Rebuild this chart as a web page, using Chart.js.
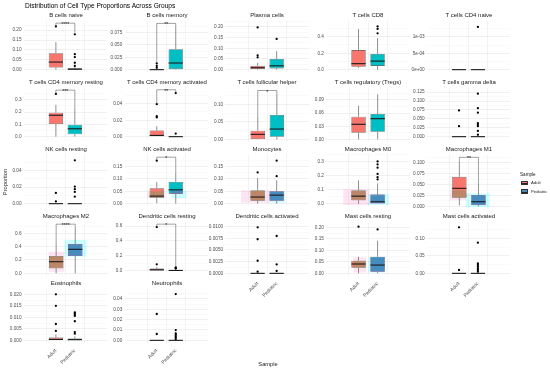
<!DOCTYPE html>
<html><head><meta charset="utf-8">
<script src="https://cdn.jsdelivr.net/npm/chart.js@4.4.1/dist/chart.umd.min.js"></script>
<style>
html,body{margin:0;padding:0;background:#fff}
body{width:550px;height:369px;overflow:hidden;position:relative;font-family:"Liberation Sans",Arial,sans-serif}
.t{position:absolute;white-space:nowrap;color:#1a1a1a;font-size:12px;line-height:12px}
canvas{position:absolute}
.key{position:absolute;width:7px;height:4.6px;box-sizing:border-box;border:0.6px solid #333}
.key i{position:absolute;left:0;right:0;top:1.6px;height:0.8px;background:#222}
</style></head><body>
<script>
// ---------------- data ----------------
const panelNames = ['B cells naive','B cells memory','Plasma cells','T cells CD8','T cells CD4 naive',
  'T cells CD4 memory resting','T cells CD4 memory activated','T cells follicular helper','T cells regulatory (Tregs)','T cells gamma delta',
  'NK cells resting','NK cells activated','Monocytes','Macrophages M0','Macrophages M1',
  'Macrophages M2','Dendritic cells resting','Dendritic cells activated','Mast cells resting','Mast cells activated',
  'Eosinophils','Neutrophils'];
const groups = ['Adult','Pediatric'];
// [lower whisker, Q1, median, Q3, upper whisker]
const adultBox = [
  [0,0.011,0.0386,0.083,0.1395],[0,0,0,0.001,0.002],[0,0.003,0.009,0.018,0.0326],[0.019,0.035,0.073,0.238,0.495],[0,0,0,0,0],
  [0,0.103,0.174,0.195,0.259],[0,0,0.0015,0.0076,0.0127],[0,0.001,0.0143,0.0246,0.0648],[0,0.0152,0.0344,0.0517,0.0769],[0,0,0,0,0],
  [0,0,0,0,0],[0.002,0.024,0.0307,0.0625,0.088],[0,0.0117,0.0268,0.0537,0.1035],[0,0.0245,0.054,0.095,0.167],[0.002,0.0198,0.0415,0.068,0.1028],
  [0,0.075,0.174,0.26,0.45],[0,0.002,0.012,0.028,0.05],[0,0,0,0,0],[0,0.0245,0.0406,0.055,0.072],[0,0,0,0,0],
  [0,0,0.0004,0.0012,0.0025],[0,0,0,0,0]];
const pedBox = [
  [0,0,0.002,0.007,0.015],[0,0.001,0.0135,0.0415,0.088],[0,0.006,0.018,0.05,0.087],[0,0.046,0.104,0.191,0.384],[0,0,0,0,0],
  [0,0.02,0.064,0.097,0.226],[0,0,0,0,0.0005],[0,0.0074,0.0295,0.0696,0.13],[0,0.0175,0.0472,0.0579,0.103],[0,0,0,0,0],
  [0,0,0,0,0],[0,0.0406,0.056,0.088,0.1265],[0,0.0117,0.0345,0.05,0.095],[0,0,0.0136,0.065,0.145],[0,0.003,0.0106,0.026,0.053],
  [0,0.26,0.36,0.44,0.7],[0,0,0.003,0.009,0.018],[0,0,0,0,0],[0,0.007,0.036,0.072,0.142],[0,0,0,0,0],
  [0,0,0.0003,0.0008,0.0017],[0,0,0,0,0]];
const adultOutliers = [
  [0.219],[0.0127,0.0077,0.0039],[0.198,0.067,0.058],[],[],
  [0.347],[0.0395,0.0249,0.0234],[],[],[0.0735,0.0294],
  [0.013,0.0027],[0.174],[0.1265],[],[],
  [],[0.588,0.085],[0.00986,0.0073,0.0027,0.00035],[0.203],[0.132,0.0096],
  [0.020,0.015,0.0071,0.0041],[0.0254,0.0061]];
const pedOutliers = [
  [0.179,0.0785,0.064,0.035,0.019],[],[0.144],[0.526,0.495,0.441],[0.0013],
  [],[0.053,0.0038],[],[],[0.1206,0.0799,0.0674,0.0381,0.0336,0.0294,0.016,0.0054],
  [0.0522,0.0206,0.0175,0.0141,0.0084],[],[0.174,0.111],[0.303,0.281,0.258,0.213,0.19,0.174],[],
  [],[0.045,0.035,0.028],[0.008,0.0019,0.0005],[0.191],[0.0878,0.0288,0.0239,0.019,0.0144,0.0096,0.0047],
  [0.0122,0.0117,0.0112,0.0106,0.0083,0.0036,0.0029],[0.0446,0.0099,0.0068,0.0055,0.004,0.0025,0.001]];
// top of each panel's value range
const yTop = [0.248,0.099,0.2295,0.595,0.00149, 0.398,0.0595,0.148,0.118,0.1373, 0.059,0.198,0.198,0.351,0.119, 0.774,0.66,0.01106,0.2245,0.148, 0.02245,0.0498];
const yTickLabels = [
  ['0.00','0.05','0.10','0.15','0.20'],['0.000','0.025','0.050','0.075'],['0.00','0.05','0.10','0.15','0.20'],['0.0','0.2','0.4'],['0e+00','5e-04','1e-03'],
  ['0.0','0.1','0.2','0.3'],['0.00','0.02','0.04'],['0.00','0.05','0.10'],['0.00','0.03','0.06','0.09'],['0.000','0.025','0.050','0.075','0.100','0.125'],
  ['0.00','0.02','0.04'],['0.00','0.05','0.10','0.15'],['0.00','0.05','0.10','0.15'],['0.0','0.1','0.2','0.3'],['0.000','0.025','0.050','0.075','0.100'],
  ['0.0','0.2','0.4','0.6'],['0.0','0.2','0.4','0.6'],['0.0000','0.0025','0.0050','0.0075','0.0100'],['0.00','0.05','0.10','0.15','0.20'],['0.00','0.05','0.10'],
  ['0.000','0.005','0.010','0.015','0.020'],['0.00','0.01','0.02','0.03','0.04']];
const sigLabel = ['****','**',null,null,null,'***','**','*',null,null,null,'*',null,null,'**','****','*',null,null,null,null,null];
const sigY =        [0.2355,0.0935,null,null,null,0.378,0.057,0.14,null,null,null,0.188,null,null,0.113,0.737,0.627,null,null,null,null,null];
const sigLegAdult = [0.214,0.015,null,null,null,0.35,0.041,0.065,null,null,null,0.178,null,null,0.103,0.45,0.59,null,null,null,null,null];
const sigLegPed =   [0.188,0.088,null,null,null,0.226,0.054,0.13,null,null,null,0.127,null,null,0.053,0.70,0.045,null,null,null,null,null];
// translucent highlight bands [x from, x to, y from, y to]
const bandPink = [null,null,null,null,null,null,null,null,null,null,null,
  [-0.5,0.45,0.023,0.05],[-0.87,0.63,0.004,0.054],[-0.8,0.58,-0.01,0.105],[-0.5,0.35,0.014,0.037],
  [-0.39,0.43,0.024,0.324],null,null,[-0.27,0.4,0.004,0.07],null,null,null];
const bandCyan = [null,null,null,null,null,null,null,null,null,null,null,
  [0.78,1.57,0.023,0.054],[0.62,1.43,0.004,0.05],[0.5,1.6,-0.01,0.07],[0.34,1.6,-0.002,0.03],
  [0.44,1.6,0.25,0.5],null,null,[0.5,1.4,0.004,0.07],null,null,null];
const groupColors = ['#F8766D','#00BFC4'];

// ---------------- layout ----------------
const COLS = 5, colX0 = 23.7, colPitch = 100.8, plotW = 84;
const rowY0 = 20.7, rowPitch = 67, plotH = 54.1;
const withXLabels = [17,18,19,20,21];
const FONT = '"Liberation Sans", Arial, sans-serif';
Chart.defaults.font.family = FONT;

function addText(txt, x, y, size, opt) {
  opt = opt || {};
  const d = document.createElement('div');
  d.className = 't'; d.textContent = txt;
  const s = size / 12;
  d.style.left = x + 'px'; d.style.top = y + 'px';
  if (opt.left) { d.style.transformOrigin = '0 50%'; d.style.transform = 'translate(0,-50%) scale(' + s + ')'; }
  else d.style.transform = 'translate(-50%,-50%)' + (opt.rot ? ' rotate(' + opt.rot + 'deg)' : '') + ' scale(' + s + ')';
  if (opt.color) d.style.color = opt.color;
  document.body.appendChild(d);
}

const boxParts = {
  id: 'boxParts',
  beforeDatasetsDraw(chart, args, o) {
    const i = o.panel, ctx = chart.ctx, a = chart.chartArea, xs = chart.scales.x, ys = chart.scales.y;
    ctx.save();
    ctx.beginPath(); ctx.rect(a.left, a.top, a.right - a.left, a.bottom - a.top); ctx.clip();
    [[bandPink[i], 'rgba(255,120,200,0.2)'], [bandCyan[i], 'rgba(0,255,255,0.2)']].forEach(([b, c]) => {
      if (!b) return;
      const x0 = xs.getPixelForValue(b[0]), x1 = xs.getPixelForValue(b[1]);
      const y0 = ys.getPixelForValue(b[2]), y1 = ys.getPixelForValue(b[3]);
      ctx.fillStyle = c; ctx.fillRect(x0, y1, x1 - x0, y0 - y1);
    });
    ctx.strokeStyle = '#333'; ctx.lineWidth = 0.55;
    [adultBox[i], pedBox[i]].forEach((s, g) => {
      const x = xs.getPixelForValue(g);
      ctx.beginPath();
      ctx.moveTo(x, ys.getPixelForValue(s[0])); ctx.lineTo(x, ys.getPixelForValue(s[1]));
      ctx.moveTo(x, ys.getPixelForValue(s[3])); ctx.lineTo(x, ys.getPixelForValue(s[4]));
      ctx.stroke();
    });
    ctx.restore();
  },
  afterDatasetsDraw(chart, args, o) {
    const i = o.panel, ctx = chart.ctx, xs = chart.scales.x, ys = chart.scales.y;
    ctx.save();
    // tint where bands cross the boxes
    const tints = ['rgba(83,166,97,0.35)', 'rgba(200,46,180,0.35)'];
    [bandPink[i], bandCyan[i]].forEach((b, k) => {
      if (!b) return;
      [adultBox[i], pedBox[i]].forEach((s, g) => {
        const bx0 = Math.max(b[0], g - 0.375), bx1 = Math.min(b[1], g + 0.375);
        const by0 = Math.max(b[2], s[1]), by1 = Math.min(b[3], s[3]);
        if (bx1 <= bx0 || by1 <= by0) return;
        const x0 = xs.getPixelForValue(bx0), x1 = xs.getPixelForValue(bx1);
        const y0 = ys.getPixelForValue(by0), y1 = ys.getPixelForValue(by1);
        ctx.fillStyle = tints[k]; ctx.fillRect(x0, y1, x1 - x0, y0 - y1);
      });
    });
    // medians
    ctx.strokeStyle = '#1a1a1a'; ctx.lineWidth = 1.1;
    [adultBox[i], pedBox[i]].forEach((s, g) => {
      const y = ys.getPixelForValue(s[2]);
      ctx.beginPath(); ctx.moveTo(xs.getPixelForValue(g - 0.375), y); ctx.lineTo(xs.getPixelForValue(g + 0.375), y); ctx.stroke();
    });
    // significance bracket
    if (sigLabel[i]) {
      const x0 = xs.getPixelForValue(0), x1 = xs.getPixelForValue(1), y = ys.getPixelForValue(sigY[i]);
      ctx.strokeStyle = '#444'; ctx.lineWidth = 0.5;
      ctx.beginPath();
      ctx.moveTo(x0, ys.getPixelForValue(sigLegAdult[i])); ctx.lineTo(x0, y); ctx.lineTo(x1, y); ctx.lineTo(x1, ys.getPixelForValue(sigLegPed[i]));
      ctx.stroke();
      ctx.fillStyle = '#222'; ctx.font = '5.2px ' + FONT; ctx.textAlign = 'center'; ctx.textBaseline = 'middle';
      ctx.fillText(sigLabel[i], (x0 + x1) / 2, y + 1.6);
    }
    ctx.restore();
  }
};

panelNames.forEach((name, i) => {
  const c = i % COLS, r = Math.floor(i / COLS);
  const pl = colX0 + colPitch * c, pt = rowY0 + rowPitch * r;
  const hasX = withXLabels.includes(i);
  const bottomH = hasX ? 26 : 0;
  const cl = Math.floor(pl - 26), ct = Math.floor(pt - 4);
  const yW = pl - cl, padTop = pt - ct;
  const cw = Math.ceil(pl + plotW + 3) - cl;
  const padR = cw - (pl + plotW - cl);
  const ch = Math.ceil(padTop + plotH + bottomH + 1);
  const padB = ch - padTop - plotH - bottomH;
  const cv = document.createElement('canvas');
  cv.width = cw; cv.height = ch;
  cv.style.left = cl + 'px'; cv.style.top = ct + 'px';
  cv.style.width = cw + 'px'; cv.style.height = ch + 'px';
  document.body.appendChild(cv);

  addText(name, pl + plotW / 2, pt - 5.6, 6.0);

  const top = yTop[i], bottom = -top * 0.05 / 1.05;
  const majors = yTickLabels[i].map(parseFloat);
  const step = majors[1] - majors[0];
  const ticks = [];
  majors.forEach((v, k) => ticks.push({ value: v, minor: false, lbl: yTickLabels[i][k] }));
  for (let v = majors[0] - step / 2; v <= top; v += step) if (v >= bottom) ticks.push({ value: v, minor: true, lbl: '' });
  ticks.sort((p, q) => p.value - q.value);

  const boxData = [0, 1].map(g => ({ x: g, y: [[adultBox, pedBox][g][i][1], [adultBox, pedBox][g][i][3]] }));
  const outData = [];
  adultOutliers[i].forEach(v => outData.push({ x: 0, y: v }));
  pedOutliers[i].forEach(v => outData.push({ x: 1, y: v }));

  new Chart(cv, {
    type: 'bar',
    data: {
      datasets: [
        { type: 'bar', data: boxData, backgroundColor: groupColors, borderColor: '#333', borderWidth: 0.55,
          borderSkipped: false, categoryPercentage: 1, barPercentage: 0.75, grouped: false, order: 2 },
        { type: 'scatter', data: outData, pointRadius: 1.15, pointBackgroundColor: '#000', pointBorderWidth: 0, order: 1 }
      ]
    },
    options: {
      responsive: false, animation: false, events: [],
      layout: { padding: { left: 0, top: padTop, right: padR, bottom: padB } },
      plugins: { legend: { display: false }, tooltip: { enabled: false }, title: { display: false }, boxParts: { panel: i } },
      scales: {
        x: {
          type: 'linear', min: -0.6, max: 1.6,
          afterBuildTicks: s => { s.ticks = [{ value: 0 }, { value: 1 }]; },
          afterFit: s => { s.height = bottomH; s.paddingLeft = 0; s.paddingRight = 0; },
          grid: { color: '#EBEBEB', lineWidth: 0.6, drawTicks: false },
          border: { display: false },
          ticks: { display: hasX, autoSkip: false, maxRotation: 45, minRotation: 45, padding: 5,
            color: '#4D4D4D', font: { size: 4.9 }, callback: v => groups[v] }
        },
        y: {
          type: 'linear', min: bottom, max: top,
          afterBuildTicks: s => { s.ticks = ticks.map(t => Object.assign({}, t)); },
          afterFit: s => { s.width = yW; s.paddingTop = 0; s.paddingBottom = 0; },
          grid: { drawTicks: false, color: ctx => (ctx.tick && ctx.tick.minor) ? '#F3F3F3' : '#E6E6E6',
            lineWidth: ctx => (ctx.tick && ctx.tick.minor) ? 0.4 : 0.6 },
          border: { display: false },
          ticks: { autoSkip: false, padding: 2.2, color: '#4D4D4D', font: { size: 4.7 },
            callback: (v, k, arr) => arr[k].lbl }
        }
      }
    },
    plugins: [boxParts]
  });
});

// titles, axis titles, legend
addText('Distribution of Cell Type Proportions Across Groups', 25, 6.2, 6.6, { left: true, color: '#000' });
addText('Proportion', 5.2, 182, 5.7, { rot: -90 });
addText('Sample', 268, 364, 5.7);
addText('Sample', 520, 174.3, 4.6, { left: true });
[['Adult', '#F8766D', 180.7], ['Pediatric', '#468CBE', 189.4]].forEach(([lab, col, y]) => {
  const k = document.createElement('div'); k.className = 'key';
  k.style.left = '520.5px'; k.style.top = y + 'px'; k.style.background = col;
  k.appendChild(document.createElement('i'));
  document.body.appendChild(k);
  addText(lab, 530.5, y + 2.3, 4.2, { left: true });
});
</script>
</body></html>
